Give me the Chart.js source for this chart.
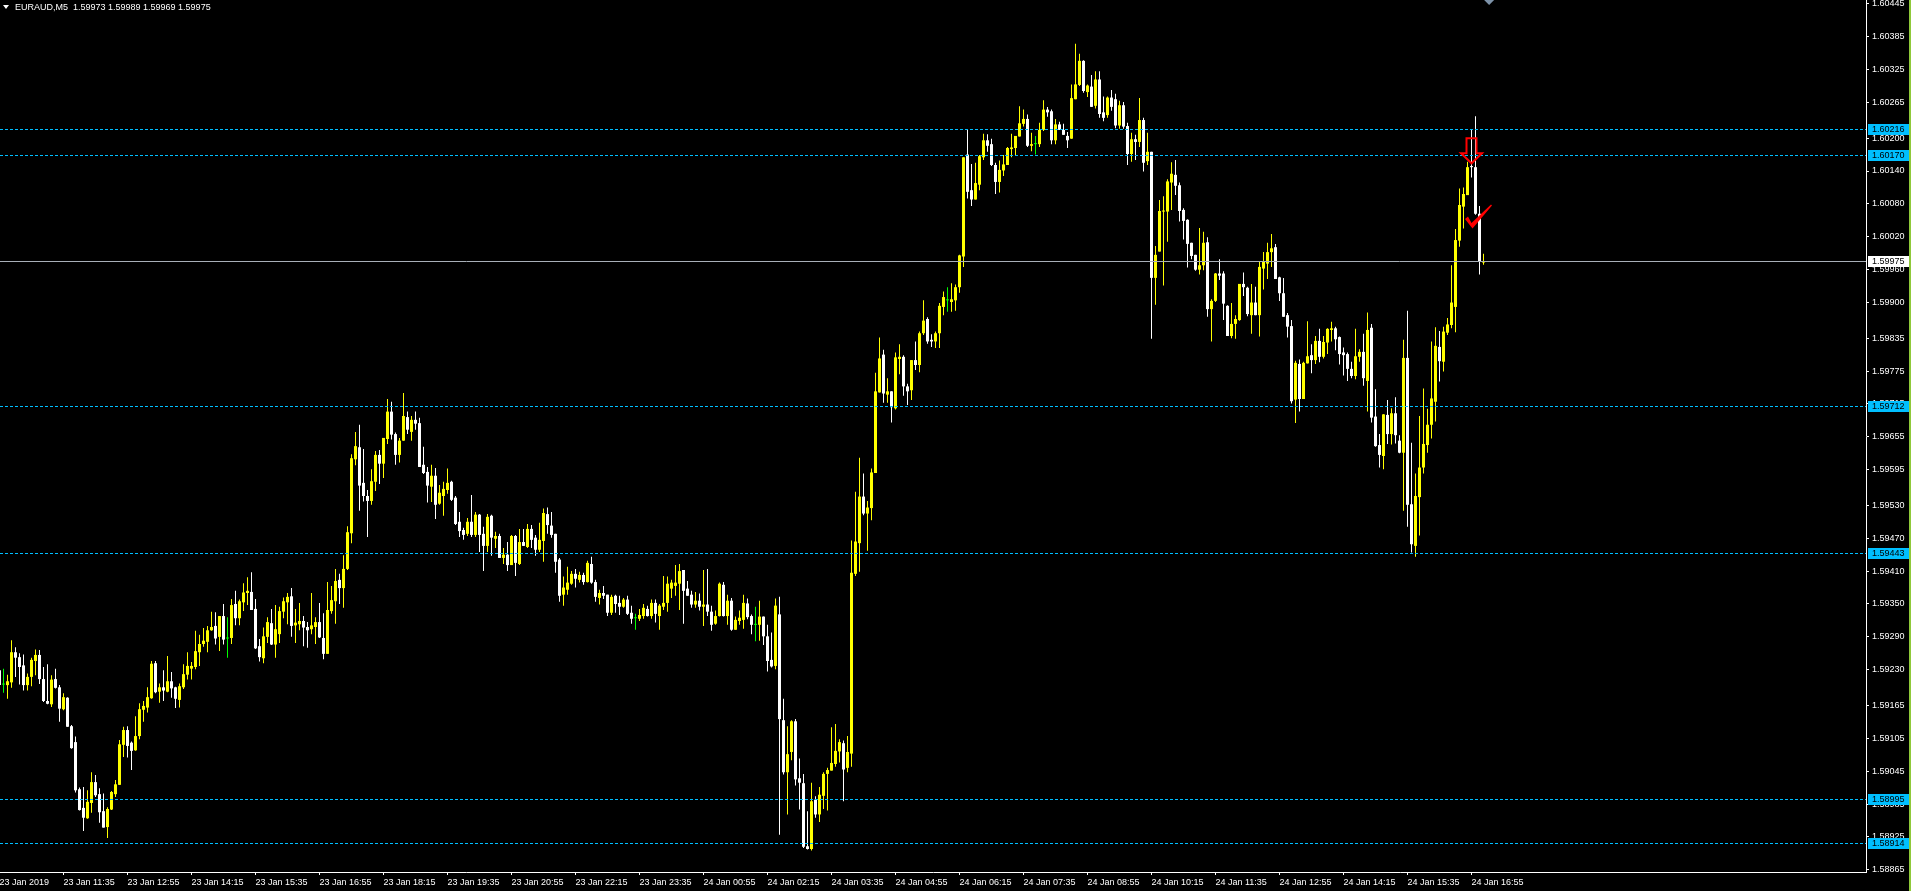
<!DOCTYPE html>
<html><head><meta charset="utf-8">
<script src="https://cdn.jsdelivr.net/npm/chart.js@4.4.1/dist/chart.umd.min.js"></script>
<style>
html,body{margin:0;padding:0;background:#000;overflow:hidden;}
#wrap{position:relative;width:1911px;height:891px;background:#000;}
#c{position:absolute;left:0;top:0;}
#title{position:absolute;left:15px;top:1px;color:#fff;font:9px "Liberation Sans",Arial,sans-serif;white-space:pre;line-height:12px;}
#tri{position:absolute;left:3px;top:5px;width:0;height:0;border-left:3px solid transparent;border-right:3px solid transparent;border-top:4px solid #fff;}
#edge{position:absolute;right:0;top:0;width:2px;height:891px;background:#8fc93a;}
</style></head><body>
<div id="wrap"><canvas id="c" width="1911" height="891"></canvas><div id="tri"></div><div id="title"></div><div id="edge"></div></div>
<script>
const symbol = 'EURAUD';
const timeframe = 'M5';

const openPrices = [1.59229,
1.59203,1.59202,1.59207,1.59262,1.59253,1.59238,1.59202,1.59217,1.59246,1.59257,
1.59213,1.59173,1.59167,1.59213,1.59198,1.59158,1.59179,1.59127,1.59098,1.59012,
1.58978,1.58959,1.58987,1.59025,1.59003,1.58972,1.58943,1.58975,1.59003,1.59020,
1.59093,1.59120,1.59097,1.59083,1.59109,1.59157,1.59161,1.59178,1.59242,1.59190,
1.59198,1.59190,1.59209,1.59198,1.59175,1.59198,1.59221,1.59232,1.59235,1.59262,
1.59277,1.59281,1.59302,1.59310,1.59290,1.59328,1.59287,1.59288,1.59350,1.59324,
1.59353,1.59370,1.59372,1.59341,1.59273,1.59251,1.59290,1.59315,1.59276,1.59295,
1.59336,1.59353,1.59364,1.59311,1.59313,1.59319,1.59308,1.59304,1.59308,1.59317,
1.59288,1.59259,1.59337,1.59355,1.59394,1.59379,1.59414,1.59479,1.59614,1.59636,
1.59571,1.59547,1.59538,1.59573,1.59622,1.59606,1.59651,1.59701,1.59660,1.59622,
1.59648,1.59691,1.59664,1.59686,1.59680,1.59604,1.59591,1.59564,1.59584,1.59533,
1.59547,1.59558,1.59573,1.59544,1.59500,1.59485,1.59478,1.59500,1.59476,1.59513,
1.59478,1.59456,1.59511,1.59469,1.59474,1.59434,1.59440,1.59421,1.59474,1.59423,
1.59463,1.59454,1.59487,1.59471,1.59449,1.59465,1.59514,1.59493,1.59478,1.59431,
1.59367,1.59376,1.59387,1.59405,1.59394,1.59403,1.59390,1.59423,1.59390,1.59361,
1.59370,1.59367,1.59334,1.59365,1.59352,1.59345,1.59358,1.59334,1.59324,1.59323,
1.59328,1.59341,1.59328,1.59352,1.59328,1.59345,1.59352,1.59378,1.59383,1.59387,
1.59412,1.59378,1.59367,1.59349,1.59356,1.59345,1.59349,1.59336,1.59314,1.59328,
1.59385,1.59328,1.59356,1.59303,1.59319,1.59321,1.59351,1.59328,1.59312,1.59312,
1.59327,1.59291,1.59248,1.59237,1.59331,1.59138,1.59043,1.59080,1.59136,1.59032,
1.59023,1.58908,1.58903,1.58993,1.58966,1.59000,1.59040,1.59046,1.59058,1.59081,
1.59096,1.59051,1.59077,1.59405,1.59461,1.59546,1.59515,1.59525,1.59589,1.59736,
1.59805,1.59732,1.59738,1.59707,1.59797,1.59801,1.59747,1.59740,1.59795,1.59786,
1.59844,1.59870,1.59832,1.59829,1.59844,1.59892,1.59904,1.59901,1.59904,1.59928,
1.59984,1.60170,1.60105,1.60088,1.60115,1.60165,1.60196,1.60189,1.60151,1.60120,
1.60141,1.60151,1.60180,1.60182,1.60203,1.60226,1.60235,1.60186,1.60189,1.60189,
1.60215,1.60252,1.60249,1.60196,1.60225,1.60215,1.60204,1.60199,1.60271,1.60297,
1.60341,1.60284,1.60294,1.60259,1.60307,1.60247,1.60242,1.60274,1.60271,1.60223,
1.60260,1.60222,1.60171,1.60198,1.60193,1.60233,1.60158,1.60175,1.59945,1.59993,
1.60066,1.60066,1.60119,1.60133,1.60114,1.60069,1.60051,1.60009,1.59987,1.59960,
1.59968,1.60010,1.59888,1.59903,1.59953,1.59953,1.59894,1.59839,1.59861,1.59868,
1.59934,1.59927,1.59877,1.59900,1.59877,1.59962,1.59971,1.59992,1.60001,1.59946,
1.59917,1.59877,1.59857,1.59723,1.59788,1.59724,1.59789,1.59804,1.59795,1.59830,
1.59801,1.59827,1.59850,1.59853,1.59837,1.59809,1.59806,1.59779,1.59766,1.59801,
1.59810,1.59757,1.59854,1.59692,1.59640,1.59620,1.59695,1.59660,1.59698,1.59648,
1.59626,1.59799,1.59532,1.59456,1.59545,1.59599,1.59640,1.59677,1.59719,1.59819,
1.59792,1.59845,1.59859,1.59892,1.60013,1.60075,1.60096,1.60149,1.60147,1.60062,
1.59973];

const highPrices = [1.59232,
1.59232,1.59221,1.59284,1.59271,1.59260,1.59258,1.59223,1.59252,1.59267,1.59266,
1.59235,1.59240,1.59220,1.59232,1.59202,1.59187,1.59180,1.59129,1.59108,1.59015,
1.59016,1.59010,1.59043,1.59038,1.59014,1.59004,1.58979,1.59009,1.59029,1.59102,
1.59126,1.59127,1.59099,1.59145,1.59169,1.59173,1.59198,1.59246,1.59246,1.59205,
1.59229,1.59255,1.59226,1.59199,1.59205,1.59240,1.59262,1.59244,1.59301,1.59294,
1.59306,1.59310,1.59336,1.59335,1.59328,1.59350,1.59326,1.59359,1.59374,1.59358,
1.59388,1.59399,1.59408,1.59359,1.59286,1.59307,1.59326,1.59341,1.59348,1.59345,
1.59362,1.59370,1.59379,1.59341,1.59352,1.59328,1.59317,1.59370,1.59326,1.59352,
1.59333,1.59390,1.59383,1.59414,1.59405,1.59439,1.59492,1.59623,1.59664,1.59677,
1.59633,1.59558,1.59596,1.59629,1.59631,1.59653,1.59724,1.59719,1.59663,1.59653,
1.59735,1.59701,1.59693,1.59701,1.59690,1.59637,1.59600,1.59604,1.59598,1.59567,
1.59573,1.59597,1.59575,1.59547,1.59518,1.59489,1.59507,1.59549,1.59518,1.59514,
1.59491,1.59514,1.59513,1.59482,1.59478,1.59452,1.59463,1.59476,1.59476,1.59487,
1.59487,1.59496,1.59494,1.59476,1.59498,1.59524,1.59526,1.59518,1.59478,1.59434,
1.59400,1.59418,1.59410,1.59414,1.59409,1.59407,1.59429,1.59436,1.59394,1.59376,
1.59383,1.59367,1.59367,1.59367,1.59365,1.59361,1.59365,1.59347,1.59332,1.59341,
1.59350,1.59347,1.59358,1.59358,1.59350,1.59401,1.59400,1.59394,1.59421,1.59423,
1.59412,1.59392,1.59374,1.59372,1.59369,1.59412,1.59414,1.59347,1.59338,1.59389,
1.59390,1.59367,1.59361,1.59327,1.59338,1.59367,1.59360,1.59331,1.59345,1.59356,
1.59327,1.59312,1.59298,1.59360,1.59363,1.59177,1.59127,1.59138,1.59140,1.59068,
1.59040,1.58972,1.59024,1.58999,1.59016,1.59043,1.59051,1.59125,1.59131,1.59103,
1.59101,1.59109,1.59466,1.59555,1.59617,1.59588,1.59538,1.59597,1.59772,1.59836,
1.59814,1.59762,1.59738,1.59809,1.59824,1.59804,1.59752,1.59795,1.59829,1.59847,
1.59904,1.59873,1.59842,1.59847,1.59899,1.59920,1.59928,1.59935,1.59933,1.59987,
1.60165,1.60215,1.60153,1.60155,1.60169,1.60208,1.60207,1.60199,1.60155,1.60159,
1.60169,1.60184,1.60208,1.60204,1.60258,1.60252,1.60243,1.60210,1.60204,1.60228,
1.60269,1.60257,1.60252,1.60235,1.60230,1.60226,1.60211,1.60298,1.60372,1.60354,
1.60342,1.60298,1.60315,1.60322,1.60322,1.60276,1.60276,1.60288,1.60281,1.60268,
1.60266,1.60228,1.60210,1.60206,1.60273,1.60237,1.60210,1.60175,1.60003,1.60087,
1.60094,1.60125,1.60156,1.60160,1.60119,1.60072,1.60052,1.60009,1.59987,1.60036,
1.60029,1.60019,1.59906,1.59954,1.59979,1.59957,1.59895,1.59899,1.59877,1.59934,
1.59955,1.59929,1.59934,1.59929,1.59975,1.59992,1.60009,1.60025,1.60007,1.59947,
1.59945,1.59881,1.59868,1.59794,1.59796,1.59792,1.59866,1.59824,1.59839,1.59852,
1.59839,1.59853,1.59865,1.59856,1.59838,1.59818,1.59809,1.59792,1.59852,1.59815,
1.59843,1.59882,1.59861,1.59742,1.59660,1.59696,1.59722,1.59707,1.59727,1.59658,
1.59832,1.59885,1.59644,1.59588,1.59693,1.59743,1.59706,1.59829,1.59855,1.59848,
1.59856,1.59872,1.59968,1.60034,1.60108,1.60110,1.60157,1.60215,1.60240,1.60076,
1.59989];

const lowPrices = [1.59198,
1.59188,1.59177,1.59197,1.59217,1.59203,1.59192,1.59192,1.59200,1.59220,1.59204,
1.59171,1.59167,1.59162,1.59196,1.59135,1.59156,1.59126,1.59086,1.59006,1.58973,
1.58936,1.58958,1.58969,1.58998,1.58951,1.58942,1.58923,1.58974,1.58998,1.59020,
1.59071,1.59070,1.59047,1.59082,1.59103,1.59135,1.59152,1.59177,1.59187,1.59170,
1.59173,1.59189,1.59179,1.59160,1.59161,1.59195,1.59212,1.59212,1.59231,1.59237,
1.59272,1.59262,1.59301,1.59276,1.59264,1.59276,1.59252,1.59277,1.59311,1.59311,
1.59337,1.59348,1.59339,1.59268,1.59245,1.59242,1.59279,1.59275,1.59252,1.59279,
1.59324,1.59313,1.59290,1.59279,1.59302,1.59273,1.59270,1.59295,1.59277,1.59288,
1.59249,1.59259,1.59332,1.59314,1.59350,1.59343,1.59412,1.59461,1.59603,1.59520,
1.59537,1.59472,1.59531,1.59556,1.59569,1.59580,1.59642,1.59650,1.59604,1.59608,
1.59648,1.59660,1.59648,1.59668,1.59600,1.59587,1.59535,1.59536,1.59505,1.59531,
1.59511,1.59551,1.59538,1.59494,1.59472,1.59467,1.59474,1.59472,1.59472,1.59445,
1.59410,1.59445,1.59438,1.59452,1.59434,1.59423,1.59410,1.59421,1.59401,1.59421,
1.59456,1.59452,1.59452,1.59438,1.59445,1.59427,1.59478,1.59471,1.59407,1.59354,
1.59347,1.59367,1.59385,1.59380,1.59389,1.59385,1.59389,1.59387,1.59354,1.59349,
1.59359,1.59328,1.59330,1.59334,1.59330,1.59343,1.59330,1.59314,1.59303,1.59319,
1.59323,1.59327,1.59323,1.59316,1.59303,1.59339,1.59336,1.59361,1.59365,1.59339,
1.59314,1.59365,1.59343,1.59343,1.59338,1.59310,1.59328,1.59301,1.59312,1.59327,
1.59327,1.59312,1.59301,1.59303,1.59312,1.59305,1.59322,1.59295,1.59282,1.59283,
1.59275,1.59227,1.59234,1.59231,1.58929,1.59039,1.58966,1.59065,1.59019,1.58975,
1.58905,1.58902,1.58900,1.58960,1.58952,1.58976,1.58973,1.59046,1.59053,1.59061,
1.58990,1.59043,1.59053,1.59401,1.59409,1.59512,1.59447,1.59503,1.59589,1.59736,
1.59717,1.59717,1.59681,1.59705,1.59769,1.59730,1.59713,1.59722,1.59777,1.59773,
1.59841,1.59825,1.59819,1.59817,1.59817,1.59877,1.59883,1.59883,1.59885,1.59918,
1.59965,1.60090,1.60076,1.60088,1.60105,1.60160,1.60175,1.60149,1.60098,1.60101,
1.60131,1.60151,1.60165,1.60169,1.60203,1.60221,1.60184,1.60176,1.60170,1.60184,
1.60213,1.60239,1.60189,1.60189,1.60215,1.60206,1.60182,1.60199,1.60271,1.60295,
1.60283,1.60275,1.60257,1.60254,1.60237,1.60231,1.60237,1.60250,1.60218,1.60217,
1.60217,1.60151,1.60157,1.60160,1.60184,1.60139,1.60151,1.59834,1.59896,1.59993,
1.59931,1.60011,1.60069,1.60096,1.60048,1.60015,1.59964,1.59979,1.59958,1.59951,
1.59959,1.59874,1.59829,1.59901,1.59941,1.59868,1.59839,1.59835,1.59834,1.59867,
1.59912,1.59875,1.59843,1.59877,1.59838,1.59924,1.59943,1.59965,1.59943,1.59903,
1.59874,1.59836,1.59716,1.59680,1.59701,1.59724,1.59789,1.59771,1.59788,1.59791,
1.59798,1.59806,1.59829,1.59813,1.59787,1.59767,1.59757,1.59762,1.59760,1.59792,
1.59748,1.59701,1.59681,1.59637,1.59599,1.59596,1.59642,1.59641,1.59643,1.59625,
1.59520,1.59491,1.59444,1.59436,1.59475,1.59588,1.59626,1.59652,1.59683,1.59756,
1.59774,1.59841,1.59853,1.59846,1.60002,1.60035,1.60096,1.60128,1.60060,1.59951,
1.59969];

const closePrices = [1.59202,
1.59203,1.59209,1.59262,1.59252,1.59235,1.59202,1.59217,1.59248,1.59257,1.59213,
1.59173,1.59168,1.59212,1.59197,1.59159,1.59180,1.59126,1.59087,1.59010,1.58974,
1.58960,1.58989,1.59025,1.59001,1.58970,1.58942,1.58976,1.59007,1.59021,1.59094,
1.59120,1.59091,1.59082,1.59109,1.59158,1.59164,1.59180,1.59241,1.59189,1.59198,
1.59192,1.59209,1.59196,1.59177,1.59200,1.59222,1.59237,1.59237,1.59264,1.59277,
1.59283,1.59302,1.59308,1.59287,1.59328,1.59285,1.59287,1.59348,1.59324,1.59355,
1.59371,1.59374,1.59339,1.59269,1.59253,1.59291,1.59317,1.59276,1.59304,1.59337,
1.59355,1.59363,1.59310,1.59316,1.59319,1.59307,1.59302,1.59311,1.59317,1.59289,
1.59259,1.59339,1.59357,1.59392,1.59379,1.59414,1.59481,1.59616,1.59638,1.59566,
1.59547,1.59538,1.59574,1.59622,1.59606,1.59653,1.59701,1.59659,1.59622,1.59648,
1.59693,1.59668,1.59686,1.59679,1.59600,1.59589,1.59566,1.59584,1.59531,1.59553,
1.59560,1.59571,1.59540,1.59496,1.59483,1.59476,1.59500,1.59476,1.59513,1.59476,
1.59456,1.59509,1.59471,1.59474,1.59434,1.59440,1.59421,1.59474,1.59425,1.59463,
1.59456,1.59487,1.59467,1.59449,1.59467,1.59516,1.59494,1.59476,1.59427,1.59365,
1.59380,1.59389,1.59405,1.59396,1.59403,1.59390,1.59425,1.59389,1.59363,1.59370,
1.59365,1.59334,1.59363,1.59350,1.59345,1.59358,1.59332,1.59323,1.59324,1.59330,
1.59343,1.59328,1.59352,1.59332,1.59347,1.59352,1.59387,1.59389,1.59389,1.59410,
1.59374,1.59365,1.59349,1.59356,1.59345,1.59349,1.59336,1.59312,1.59328,1.59387,
1.59328,1.59356,1.59303,1.59321,1.59325,1.59352,1.59326,1.59312,1.59312,1.59327,
1.59291,1.59246,1.59236,1.59347,1.59140,1.59043,1.59076,1.59136,1.59030,1.59024,
1.58907,1.58903,1.58990,1.58966,1.59002,1.59040,1.59047,1.59060,1.59082,1.59098,
1.59048,1.59080,1.59407,1.59464,1.59546,1.59515,1.59526,1.59590,1.59738,1.59798,
1.59734,1.59738,1.59709,1.59800,1.59801,1.59747,1.59738,1.59795,1.59786,1.59844,
1.59867,1.59829,1.59829,1.59844,1.59894,1.59910,1.59904,1.59906,1.59928,1.59986,
1.60165,1.60102,1.60088,1.60118,1.60167,1.60196,1.60186,1.60151,1.60120,1.60142,
1.60152,1.60182,1.60183,1.60204,1.60227,1.60235,1.60186,1.60189,1.60189,1.60215,
1.60252,1.60247,1.60196,1.60225,1.60215,1.60206,1.60196,1.60273,1.60298,1.60341,
1.60286,1.60296,1.60257,1.60307,1.60244,1.60237,1.60274,1.60257,1.60223,1.60260,
1.60221,1.60171,1.60198,1.60193,1.60233,1.60155,1.60175,1.59945,1.59987,1.60067,
1.60067,1.60121,1.60135,1.60113,1.60067,1.60049,1.60007,1.59985,1.59960,1.59968,
1.60009,1.59888,1.59903,1.59953,1.59949,1.59898,1.59839,1.59861,1.59870,1.59934,
1.59928,1.59879,1.59900,1.59877,1.59965,1.59975,1.59992,1.59999,1.59943,1.59917,
1.59874,1.59856,1.59720,1.59790,1.59724,1.59790,1.59802,1.59795,1.59830,1.59801,
1.59828,1.59852,1.59853,1.59833,1.59806,1.59804,1.59779,1.59766,1.59802,1.59810,
1.59762,1.59850,1.59690,1.59638,1.59622,1.59696,1.59660,1.59698,1.59658,1.59626,
1.59799,1.59531,1.59459,1.59547,1.59599,1.59642,1.59677,1.59725,1.59821,1.59793,
1.59847,1.59860,1.59900,1.60014,1.60078,1.60098,1.60147,1.60147,1.60062,1.59975,
1.59975];

// Time-axis labels: one every 16 bars (80 minutes)
const xTickLabels = ['23 Jan 2019','23 Jan 11:35','23 Jan 12:55','23 Jan 14:15','23 Jan 15:35','23 Jan 16:55',
  '23 Jan 18:15','23 Jan 19:35','23 Jan 20:55','23 Jan 22:15','23 Jan 23:35','24 Jan 00:55','24 Jan 02:15',
  '24 Jan 03:35','24 Jan 04:55','24 Jan 06:15','24 Jan 07:35','24 Jan 08:55','24 Jan 10:15','24 Jan 11:35',
  '24 Jan 12:55','24 Jan 14:15','24 Jan 15:35','24 Jan 16:55'];
const barsPerLabel = 16;

const yTickValues = [1.60445,1.60385,1.60325,1.60265,1.60200,1.60140,1.60080,1.60020,1.59960,1.59900,1.59835,
  1.59775,1.59715,1.59655,1.59595,1.59530,1.59470,1.59410,1.59350,1.59290,1.59230,1.59165,1.59105,1.59045,
  1.58985,1.58925,1.58865];

const levelPrices = [1.60216, 1.60170, 1.59712, 1.59443, 1.58995, 1.58914];
const bidPrice = 1.59975;

const arrowMark = {bar: 368, price: 1.60154};
const checkMark = {bar: 368, price: 1.60036};
const shiftMarkBar = 372.4;

// ---------------------------------------------------------------
const last = openPrices.length - 1;
document.getElementById('title').textContent =
  symbol + ',' + timeframe + '  ' + [openPrices[last], highPrices[last], lowPrices[last], closePrices[last]].map(v => v.toFixed(5)).join(' ');

const idx = openPrices.map((_, j) => j);
const candleColor = idx.map(j => closePrices[j] > openPrices[j] ? '#ffff00' : (closePrices[j] < openPrices[j] ? '#ffffff' : '#00ff00'));
const wickData = idx.map(j => ({x: j, y: [lowPrices[j], highPrices[j]]}));
const bodyData = idx.map(j => ({x: j, y: [openPrices[j], closePrices[j]]}));

Chart.defaults.font.family = '"Liberation Sans", Arial, sans-serif';
Chart.defaults.font.size = 9;
Chart.defaults.color = '#ffffff';

const overlay = {
  id: 'overlay',
  afterDatasetsDraw(chart) {
    const {ctx, chartArea: a, scales: {x, y}} = chart;
    ctx.save();
    ctx.beginPath(); ctx.rect(a.left, a.top, a.right - a.left, a.bottom - a.top); ctx.clip();
    ctx.lineWidth = 1;
    ctx.strokeStyle = '#00bfff';
    ctx.setLineDash([3, 2]);
    levelPrices.forEach(p => {
      const py = Math.round(y.getPixelForValue(p)) + 0.5;
      ctx.beginPath(); ctx.moveTo(a.left, py); ctx.lineTo(a.right, py); ctx.stroke();
    });
    ctx.setLineDash([]);
    ctx.strokeStyle = '#a8afb7';
    const by = Math.round(y.getPixelForValue(bidPrice)) + 0.5;
    ctx.beginPath(); ctx.moveTo(a.left, by); ctx.lineTo(a.right, by); ctx.stroke();

    // hollow down arrow
    const tx = x.getPixelForValue(arrowMark.bar), ty = y.getPixelForValue(arrowMark.price);
    ctx.strokeStyle = '#ff0000'; ctx.lineWidth = 2; ctx.lineJoin = 'miter';
    ctx.beginPath();
    ctx.moveTo(tx, ty); ctx.lineTo(tx - 10.5, ty - 10); ctx.lineTo(tx - 5, ty - 10); ctx.lineTo(tx - 5, ty - 25);
    ctx.lineTo(tx + 5, ty - 25); ctx.lineTo(tx + 5, ty - 10); ctx.lineTo(tx + 10.5, ty - 10); ctx.closePath();
    ctx.stroke();

    // check mark
    const cx = x.getPixelForValue(checkMark.bar), cy = y.getPixelForValue(checkMark.price);
    ctx.fillStyle = '#ff0000';
    ctx.beginPath();
    ctx.moveTo(cx - 6.5, cy - 9); ctx.lineTo(cx - 3.5, cy - 11.5); ctx.lineTo(cx, cy - 5);
    ctx.lineTo(cx + 19.5, cy - 23.5); ctx.lineTo(cx + 20.5, cy - 22.5); ctx.lineTo(cx + 1, cy + 0.5);
    ctx.closePath(); ctx.fill();
    ctx.restore();
  },
  afterDraw(chart) {
    const {ctx, chartArea: a, scales: {x, y}} = chart;
    ctx.save();
    ctx.font = '9px "Liberation Sans", Arial, sans-serif';
    ctx.textBaseline = 'middle'; ctx.textAlign = 'left';
    const box = (p, bg) => {
      const py = Math.round(y.getPixelForValue(p));
      ctx.fillStyle = bg; ctx.fillRect(a.right + 2, py - 5, 41, 11);
      ctx.fillStyle = '#000000'; ctx.fillText(p.toFixed(5), a.right + 6, py + 0.5);
    };
    levelPrices.forEach(p => box(p, '#00bfff'));
    box(bidPrice, '#ffffff');
    // chart-shift marker
    const sx = x.getPixelForValue(shiftMarkBar);
    ctx.fillStyle = '#7d92a8';
    ctx.beginPath(); ctx.moveTo(sx - 5, a.top); ctx.lineTo(sx + 5, a.top); ctx.lineTo(sx, a.top + 5); ctx.closePath(); ctx.fill();
    ctx.restore();
  }
};

new Chart(document.getElementById('c'), {
  type: 'bar',
  data: {
    datasets: [
      {label: 'wick', data: wickData, grouped: false, barThickness: 1, backgroundColor: candleColor, borderWidth: 0, inflateAmount: 0, order: 2},
      {label: 'body', data: bodyData, grouped: false, barThickness: 3, minBarLength: 1, backgroundColor: candleColor, borderWidth: 0, inflateAmount: 0, order: 1}
    ]
  },
  options: {
    responsive: false, maintainAspectRatio: false, animation: false, events: [],
    layout: {padding: 0},
    plugins: {legend: {display: false}, tooltip: {enabled: false}},
    scales: {
      x: {
        type: 'linear', min: 0.125, max: 466.625, offset: false,
        grid: {display: true, drawOnChartArea: false, drawTicks: true, tickLength: 3, color: '#ffffff', offset: false},
        border: {display: true, color: '#ffffff', width: 1},
        ticks: {autoSkip: false, maxRotation: 0, minRotation: 0, align: 'start', padding: 2, color: '#ffffff',
          callback: (v, i) => xTickLabels[i]},
        afterBuildTicks: s => { s.ticks = xTickLabels.map((_, k) => ({value: k * barsPerLabel})); },
        afterFit: s => { s.height = 19; s.paddingLeft = 0; s.paddingRight = 0; }
      },
      y: {
        type: 'linear', position: 'right', min: 1.58861, max: 1.60452,
        grid: {display: true, drawOnChartArea: false, drawTicks: true, tickLength: 3, color: '#ffffff'},
        border: {display: true, color: '#ffffff', width: 1},
        ticks: {autoSkip: false, padding: 3, color: '#ffffff', callback: v => Number(v).toFixed(5)},
        afterBuildTicks: s => { s.ticks = yTickValues.map(v => ({value: v})); },
        afterFit: s => { s.width = 45; s.paddingTop = 0; s.paddingBottom = 0; }
      }
    }
  },
  plugins: [overlay]
});
</script>
</body></html>
